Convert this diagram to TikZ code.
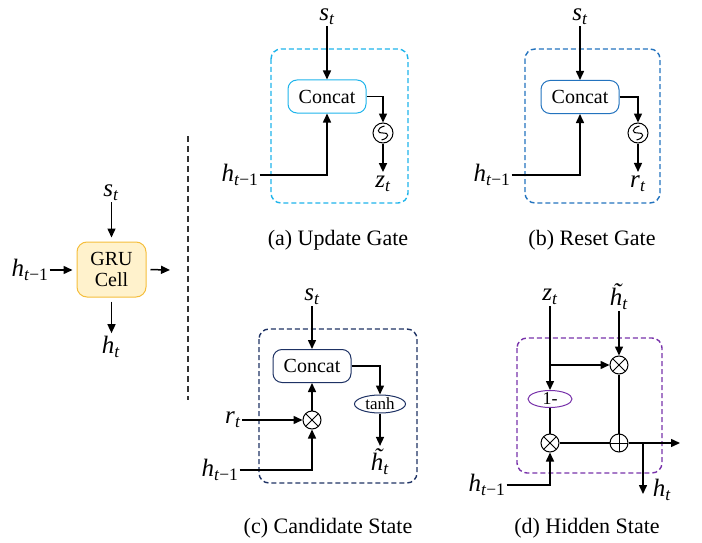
\documentclass[tikz,border=0pt]{standalone}
\usepackage{fontspec}
\setmainfont{Liberation Serif}
\usetikzlibrary{arrows.meta,shapes.geometric}

\definecolor{cellfill}{RGB}{255,242,204}
\definecolor{celldraw}{RGB}{245,190,60}
\definecolor{updc}{RGB}{30,180,235}
\definecolor{resc}{RGB}{35,115,190}
\definecolor{candc}{RGB}{30,50,100}
\definecolor{hidc}{RGB}{120,50,170}
\definecolor{sepc}{RGB}{50,50,50}

% variable with subscript, and the same with a tilde
\newcommand{\vs}[2]{\textit{#1}\textsubscript{\textit{#2}}}
\newcommand{\vsm}[1]{\textit{#1}\textsubscript{\textit{t}−1}}
\newcommand{\vt}[2]{\textit{\rlap{\kern0.12em\raisebox{0.2em}{˜}}#1}\textsubscript{\textit{#2}}}

\tikzset{
  ln/.style={line width=1.5pt},
  arr/.style={ln,-{Triangle[length=9pt,width=8pt]}},
  lbl/.style={font=\fontsize{25}{28}\selectfont,inner sep=1pt},
  captxt/.style={font=\fontsize{22}{24}\selectfont,inner sep=0pt},
  cell/.style={draw=celldraw,fill=cellfill,line width=1pt,rounded corners=10pt,
    minimum width=69pt,minimum height=55pt,align=center,
    font=\fontsize{20}{21}\selectfont},
  gatebox/.style={draw=#1,line width=1.4pt,dash pattern=on 5pt off 3pt,rounded corners=10pt},
  concat/.style={draw=#1,line width=1pt,rounded corners=9pt,
    minimum width=78pt,minimum height=33pt,font=\fontsize{20}{22}\selectfont},
  act/.style={draw=#1,line width=1pt,ellipse,inner sep=0pt,
    minimum width=51pt,minimum height=18pt,font=\fontsize{17}{18}\selectfont},
  sigm/.style={circle,draw,line width=1pt,minimum size=20pt,inner sep=0pt,
    path picture={\draw[line width=1pt,shift={(path picture bounding box.center)}]
      (1.5pt,7pt) .. controls (-7pt,5pt) and (-6pt,-1pt) .. (0pt,0pt)
      .. controls (6pt,1pt) and (7pt,-5pt) .. (-1.5pt,-7pt);}},
  mul/.style={circle,draw,line width=1pt,minimum size=18pt,inner sep=0pt,
    path picture={\draw[line width=1pt,shift={(path picture bounding box.center)}]
      (45:9pt) -- (225:9pt) (135:9pt) -- (-45:9pt);}},
  add/.style={circle,draw,line width=1pt,minimum size=18pt,inner sep=0pt,
    path picture={\draw[line width=1pt,shift={(path picture bounding box.center)}]
      (0:9pt) -- (180:9pt) (90:9pt) -- (-90:9pt);}}
}

\begin{document}
\begin{tikzpicture}[x=1pt,y=-1pt]
\useasboundingbox (0,0) rectangle (702,543);

% GRU cell
\node[cell] (gru) at (111.5,269.5) {GRU\\Cell};
\node[lbl] (s0) at (111,193) {\vs{s}{t}};
\node[lbl] (h0) at (30,270) {\vsm{h}};
\node[lbl] (o0) at (111,347) {\vs{h}{t}};
\coordinate (out0) at (170,270);
\draw[arr,shorten >=4pt] (gru.north |- s0.south) -- (gru.north);
\draw[arr,shorten >=4pt] (h0.east) -- (h0.east -| gru.west);
\draw[arr,shorten <=4pt] (gru.east) -- (out0);
\draw[arr,shorten <=4pt,shorten >=2pt] (gru.south) -- (gru.south |- o0.north);

\draw[sepc,line width=2pt,dash pattern=on 6pt off 4pt] (188,136) -- (188,400);

% (a) update gate
\draw[gatebox=updc] (271,49) rectangle (408,203);
\node[concat=updc] (ca) at (327,96.5) {Concat};
\node[lbl] (sa) at (327,17) {\vs{s}{t}};
\node[lbl] (ha) at (240,175) {\vsm{h}};
\node[sigm] (ga) at (383,133) {};
\node[lbl] (za) at (383,184) {\vs{z}{t}};
\draw[arr] (ca.north |- sa.south) -- (ca.north);
\draw[arr] (ha.east) -| (ca.south);
\draw[arr] (ca.east) -| (ga.north);
\draw[arr,shorten >=3pt] (ga.south) -- (za.north);
\node[captxt] (capa) at (338,240) {(a) Update Gate};

% (b) reset gate
\draw[gatebox=resc] (525,49) rectangle (660,203);
\node[concat=resc] (cb) at (580,97) {Concat};
\node[lbl] (sb) at (580,17) {\vs{s}{t}};
\node[lbl] (hb) at (492,175) {\vsm{h}};
\node[sigm] (gb) at (638,133) {};
\node[lbl] (rb) at (638,184) {\vs{r}{t}};
\draw[arr] (cb.north |- sb.south) -- (cb.north);
\draw[arr] (hb.east) -| (cb.south);
\draw[arr] (cb.east) -| (gb.north);
\draw[arr,shorten >=3pt] (gb.south) -- (rb.north);
\node[captxt] (capb) at (592,240) {(b) Reset Gate};

% (c) candidate state
\draw[gatebox=candc] (259,329) rectangle (417,483);
\node[concat=candc] (cc) at (312,366) {Concat};
\node[lbl] (sc) at (312,297) {\vs{s}{t}};
\node[mul] (mc) at (312,420) {};
\node[lbl] (rc) at (233,420) {\vs{r}{t}};
\node[lbl] (hc) at (220,470) {\vsm{h}};
\node[act=candc] (tc) at (380,404) {tanh};
\node[lbl] (oc) at (380,462) {\vt{h}{t}};
\draw[arr] (cc.north |- sc.south) -- (cc.north);
\draw[arr] (mc) -- (cc);
\draw[arr] (rc) -- (mc);
\draw[arr] (hc.east) -| (mc.south);
\draw[arr] (cc.east) -| (tc.north);
\draw[arr,shorten >=2pt] (tc.south) -- (tc.south |- oc.north);
\node[captxt] (capc) at (328,528) {(c) Candidate State};

% (d) hidden state
\draw[gatebox=hidc] (517,338) rectangle (662,473);
\node[lbl] (zd) at (550,297) {\vs{z}{t}};
\node[lbl] (td) at (619,297) {\vt{h}{t}};
\node[mul] (m1) at (619,365) {};
\node[act=hidc,minimum width=44pt,minimum height=17pt,font=\fontsize{18}{19}\selectfont] (om) at (550,399) {1-};
\node[mul] (m2) at (550,443) {};
\node[add] (ad) at (619,443) {};
\node[lbl] (hd) at (487,485) {\vsm{h}};
\node[lbl] (od) at (662,490) {\vs{h}{t}};
\coordinate (zb) at (550,365);
\coordinate (br) at (643,443);
\coordinate (bd) at (643,494);
\coordinate (out) at (680,443);
\draw[arr] (zd.south) -- (om.north);
\draw[arr] (zb) -- (m1.west);
\draw[arr] (td.south) -- (m1.north);
\draw[ln] (om.south) -- (m2.north);
\draw[arr] (hd.east) -| (m2.south);
\draw[ln] (m2.east) -- (ad.west);
\draw[ln] (m1.south) -- (ad.north);
\draw[arr] (ad.east) -- (out);
\draw[arr] (br) -- (bd);
\node[captxt] (capd) at (587,528) {(d) Hidden State};
\end{tikzpicture}
\end{document}
